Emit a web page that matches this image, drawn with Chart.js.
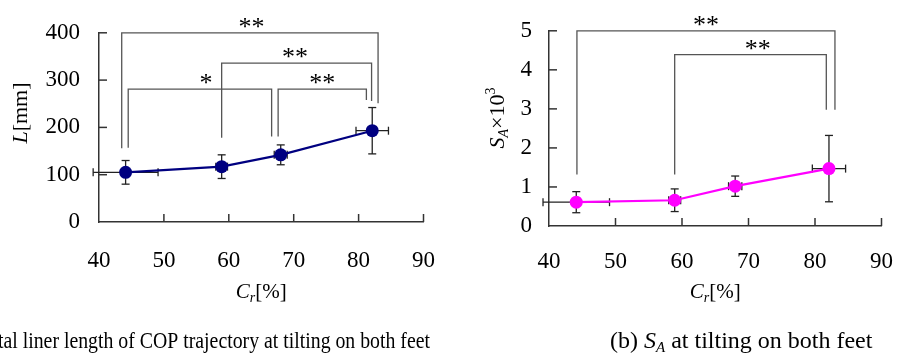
<!DOCTYPE html>
<html>
<head>
<meta charset="utf-8">
<script src="https://cdn.jsdelivr.net/npm/chart.js@4.4.0/dist/chart.umd.min.js"></script>
<style>
    html, body { margin: 0; padding: 0; background: #fff; overflow: hidden; }
    #wrap { position: relative; width: 915px; height: 353px; }
    .box { position: absolute; top: 0; height: 353px; }
</style>
</head>
<body>
<div id="wrap">
    <div class="box" style="left:0;width:460px"><canvas id="chartL"></canvas></div>
    <div class="box" style="left:460px;width:455px"><canvas id="chartR"></canvas></div>
</div>
<script>
const SERIF = '"Liberation Serif", "Times New Roman", serif';

// Cr [%] : mean and SD (same subjects in both panels)
const crMean = [44.1, 58.9, 68.0, 82.1];
const crSd = [5.0, 0.9, 1.0, 2.5];
const crTicks = [40, 50, 60, 70, 80, 90];

// (a) total liner length L [mm]
const lengthMean = [105, 117, 142, 193];
const lengthSd = [25, 25, 21, 49];
const lengthTicks = [0, 100, 200, 300, 400];

// (b) S_A x 10^3
const areaMean = [0.61, 0.66, 1.02, 1.47];
const areaSd = [0.27, 0.29, 0.26, 0.85];
const areaTicks = [0, 1, 2, 3, 4, 5];

// significance brackets: [x from, x to, top, left leg end, right leg end, mark x, mark]
const bracketsL = [
    [43.5, 83.0, 400, 156, 251, 63.5, "**"],
    [58.9, 82.0, 336, 178, 256, 70.2, "**"],
    [44.5, 66.6, 281, 157, 181, 56.5, "*"],
    [67.6, 81.2, 281, 181, 258, 74.4, "**"]
];
const bracketsR = [
    [44.2, 83.0, 5.0, 1.32, 2.98, 63.6, "**"],
    [58.9, 81.7, 4.39, 1.32, 2.98, 71.4, "**"]
];

function fontStr(size, italic) {
    return (italic ? "italic " : "") + size + "px " + SERIF;
}

// parts: [text, size, italic, dy]
function textWidth(ctx, parts) {
    let total = 0;
    parts.forEach((p) => {
        ctx.font = fontStr(p[1], p[2]);
        total += ctx.measureText(p[0]).width;
    });
    return total;
}

function drawRich(ctx, parts, x, y, align, sx, rot) {
    const total = textWidth(ctx, parts);
    let cx = align === "center" ? -total / 2 : align === "right" ? -total : 0;
    ctx.save();
    ctx.translate(x, y);
    if (rot) ctx.rotate(rot);
    ctx.scale(sx || 1, 1);
    ctx.textAlign = "left";
    ctx.textBaseline = "alphabetic";
    ctx.fillStyle = "#000";
    parts.forEach((p) => {
        ctx.font = fontStr(p[1], p[2]);
        ctx.fillText(p[0], cx, p[3] || 0);
        cx += ctx.measureText(p[0]).width;
    });
    ctx.restore();
}

function line(ctx, x1, y1, x2, y2) {
    ctx.beginPath();
    ctx.moveTo(x1, y1);
    ctx.lineTo(x2, y2);
    ctx.stroke();
}

const decorPlugin = {
    id: "decor",
    beforeDatasetsDraw(chart, args, opts) {
        // error bars in both directions
        const ctx = chart.ctx;
        const xs = chart.scales.x;
        const ys = chart.scales.y;
        ctx.save();
        ctx.strokeStyle = "#222";
        ctx.lineWidth = 1.3;
        opts.mean.forEach((v, i) => {
            const px = xs.getPixelForValue(crMean[i]);
            const py = ys.getPixelForValue(v);
            const top = ys.getPixelForValue(v + opts.sd[i]);
            const bot = ys.getPixelForValue(v - opts.sd[i]);
            const l = xs.getPixelForValue(crMean[i] - crSd[i]);
            const r = xs.getPixelForValue(crMean[i] + crSd[i]);
            line(ctx, px, top, px, bot);
            line(ctx, px - 4, top, px + 4, top);
            line(ctx, px - 4, bot, px + 4, bot);
            line(ctx, l, py, r, py);
            line(ctx, l, py - 4, l, py + 4);
            line(ctx, r, py - 4, r, py + 4);
        });
        ctx.restore();
    },
    afterDraw(chart, args, opts) {
        const ctx = chart.ctx;
        const xs = chart.scales.x;
        const ys = chart.scales.y;
        const area = chart.chartArea;

        // inward tick marks
        ctx.save();
        ctx.strokeStyle = "#333";
        ctx.lineWidth = 1.5;
        xs.ticks.forEach((t, i) => {
            if (i === 0) return;
            const px = xs.getPixelForValue(t.value);
            line(ctx, px, area.bottom, px, area.bottom - 8);
        });
        ys.ticks.forEach((t, i) => {
            if (i === 0) return;
            const py = ys.getPixelForValue(t.value);
            line(ctx, area.left, py, area.left + 8, py);
        });

        // significance brackets
        ctx.strokeStyle = "#555";
        ctx.lineWidth = 1.3;
        opts.brackets.forEach((b) => {
            const x1 = xs.getPixelForValue(b[0]);
            const x2 = xs.getPixelForValue(b[1]);
            const yt = ys.getPixelForValue(b[2]);
            ctx.beginPath();
            ctx.moveTo(x1, ys.getPixelForValue(b[3]));
            ctx.lineTo(x1, yt);
            ctx.lineTo(x2, yt);
            ctx.lineTo(x2, ys.getPixelForValue(b[4]));
            ctx.stroke();
            drawRich(ctx, [[b[6], 26, false]], xs.getPixelForValue(b[5]), yt + 2, "center");
        });
        ctx.restore();

        // axis titles
        const midX = (area.left + area.right) / 2;
        drawRich(ctx, [["C", 21, true], ["r", 14, true, 4], ["[%]", 21, false]], midX, 298, "center");
        drawRich(ctx, opts.yTitle, opts.yTitlePos[0], opts.yTitlePos[1], "center", 1, -Math.PI / 2);

        // caption (left one is squeezed so its visible tail fits like the original)
        let sx = 1;
        if (opts.captionFit) {
            sx = opts.captionFit[1] / textWidth(ctx, [[opts.captionFit[0], 24, false]]);
        }
        drawRich(ctx, opts.caption, opts.captionPos[0], 348, opts.captionAlign, sx);
    }
};

function makeChart(canvasId, cfg) {
    const ctx = document.getElementById(canvasId).getContext("2d");
    return new Chart(ctx, {
        type: "scatter",
        data: {
            datasets: [{
                data: cfg.mean.map((v, i) => ({ x: crMean[i], y: v })),
                showLine: true,
                borderColor: cfg.color,
                borderWidth: 2.2,
                backgroundColor: cfg.color,
                pointBackgroundColor: cfg.color,
                pointBorderWidth: 0,
                pointRadius: 6.5,
                clip: false
            }]
        },
        options: {
            responsive: true,
            maintainAspectRatio: false,
            animation: false,
            events: [],
            layout: { padding: { top: 30, right: cfg.padRight, bottom: 0, left: 0 } },
            plugins: {
                legend: { display: false },
                tooltip: { enabled: false },
                decor: {
                    mean: cfg.mean,
                    sd: cfg.sd,
                    brackets: cfg.brackets,
                    yTitle: cfg.yTitle,
                    yTitlePos: cfg.yTitlePos,
                    caption: cfg.caption,
                    captionPos: cfg.captionPos,
                    captionAlign: cfg.captionAlign,
                    captionFit: cfg.captionFit
                }
            },
            scales: {
                x: {
                    type: "linear",
                    min: 40,
                    max: 90,
                    afterBuildTicks: (s) => { s.ticks = crTicks.map((v) => ({ value: v })); },
                    afterFit: (s) => { s.height = cfg.xHeight; },
                    ticks: { color: "#000", font: { family: SERIF, size: 23 }, padding: cfg.xPad, maxRotation: 0 },
                    grid: { display: false, drawTicks: false },
                    border: { color: "#333", width: 1.5 }
                },
                y: {
                    min: cfg.yTicks[0],
                    max: cfg.yTicks[cfg.yTicks.length - 1],
                    afterBuildTicks: (s) => { s.ticks = cfg.yTicks.map((v) => ({ value: v })); },
                    afterFit: (s) => { s.width = cfg.yWidth; },
                    ticks: { color: "#000", font: { family: SERIF, size: 23 }, padding: cfg.yPad },
                    grid: { display: false, drawTicks: false },
                    border: { color: "#333", width: 1.5 }
                }
            }
        },
        plugins: [decorPlugin]
    });
}

makeChart("chartL", {
    mean: lengthMean,
    sd: lengthSd,
    yTicks: lengthTicks,
    brackets: bracketsL,
    color: "#000080",
    yWidth: 99,
    yPad: 19,
    xHeight: 131,
    xPad: 25,
    padRight: 35,
    yTitle: [["L", 22, true], ["[mm]", 22, false]],
    yTitlePos: [27, 113],
    caption: [["(a) Total liner length of COP trajectory at tilting on both feet", 24, false]],
    captionPos: [430],
    captionAlign: "right",
    captionFit: ["tal liner length of COP trajectory at tilting on both feet", 432]
});

makeChart("chartR", {
    mean: areaMean,
    sd: areaSd,
    yTicks: areaTicks,
    brackets: bracketsR,
    color: "#ff00ff",
    yWidth: 89,
    yPad: 17,
    xHeight: 127,
    xPad: 22,
    padRight: 12,
    yTitle: [["S", 22, true], ["A", 14, true, 4], ["\u00d710", 22, false], ["3", 14, false, -9]],
    yTitlePos: [44, 118],
    caption: [["(b) ", 24, false], ["S", 24, true], ["A", 15, true, 4], [" at tilting on both feet", 24, false]],
    captionPos: [150],
    captionAlign: "left"
});
</script>
</body>
</html>
